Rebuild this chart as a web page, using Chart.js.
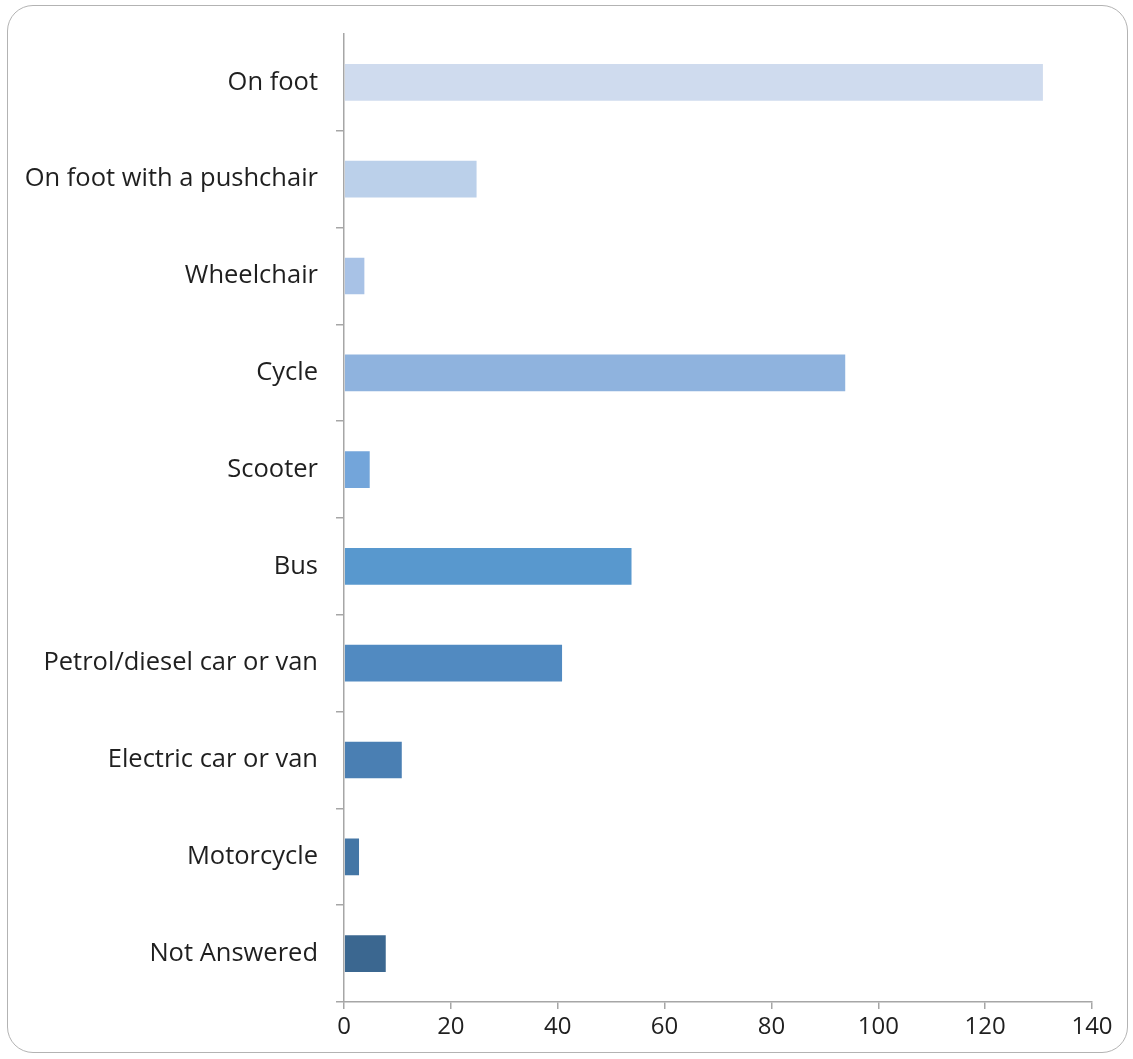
<!DOCTYPE html>
<html>
<head>
<meta charset="utf-8">
<script src="https://cdn.jsdelivr.net/npm/chart.js@4/dist/chart.umd.min.js"></script>
<style>
  html, body { margin: 0; padding: 0; background: #ffffff; }
  #wrap { position: relative; width: 1133px; height: 1059px; }
  #frame { position: absolute; left: 7px; top: 5px; width: 1119px; height: 1046px;
           border: 1.5px solid #b3b3b3; border-radius: 26px; pointer-events: none; }
  canvas { position: absolute; left: 0; top: 0; }
</style>
</head>
<body>
<div id="wrap">
  <canvas id="c" width="1133" height="1059"></canvas>
  <div id="frame"></div>
</div>
<script>
const categories = ["On foot", "On foot with a pushchair", "Wheelchair", "Cycle", "Scooter", "Bus",
                    "Petrol/diesel car or van", "Electric car or van", "Motorcycle", "Not Answered"];
const values = [131, 25, 4, 94, 5, 54, 41, 11, 3, 8];
const barColors = ["#CFDBEE", "#BBD0EA", "#A8C2E6", "#8FB3DE", "#73A5DA", "#5898CE",
                   "#518AC1", "#4A7FB3", "#4476A5", "#3B6790"];
const xTicks = [0, 20, 40, 60, 80, 100, 120, 140];

const FONT = "'Open Sans', 'Liberation Sans', sans-serif";

new Chart(document.getElementById('c'), {
  type: 'bar',
  data: {
    labels: categories,
    datasets: [{
      data: values,
      backgroundColor: barColors,
      borderColor: 'rgba(255,255,255,0.45)',
      borderWidth: 1,
      categoryPercentage: 0.4,
      barPercentage: 1.0
    }]
  },
  options: {
    indexAxis: 'y',
    responsive: false,
    animation: false,
    devicePixelRatio: 1,
    layout: { padding: { left: 0, top: 34, right: 41, bottom: 0 } },
    plugins: { legend: { display: false }, tooltip: { enabled: false } },
    scales: {
      x: {
        min: 0, max: 140,
        afterBuildTicks: (s) => { s.ticks = xTicks.map(v => ({ value: v })); },
        afterFit: (s) => { s.height = 57; },
        border: { display: true, color: '#a6a6a6', width: 1.5 },
        grid: { drawOnChartArea: false, drawTicks: true, tickLength: 7, color: '#a6a6a6', lineWidth: 1.5 },
        ticks: { color: '#1f1f1f', font: { family: FONT, size: 24 }, padding: 4, maxRotation: 0 }
      },
      y: {
        afterFit: (s) => { s.width = 344; },
        border: { display: true, color: '#a6a6a6', width: 1.5 },
        grid: { offset: true, drawOnChartArea: false, drawTicks: true, tickLength: 8,
                color: (ctx) => ctx.index === 0 ? 'rgba(0,0,0,0)' : '#a6a6a6', lineWidth: 1.5 },
        ticks: { color: '#1f1f1f', font: { family: FONT, size: 25.5 }, padding: 18 }
      }
    }
  }
});
</script>
</body>
</html>
